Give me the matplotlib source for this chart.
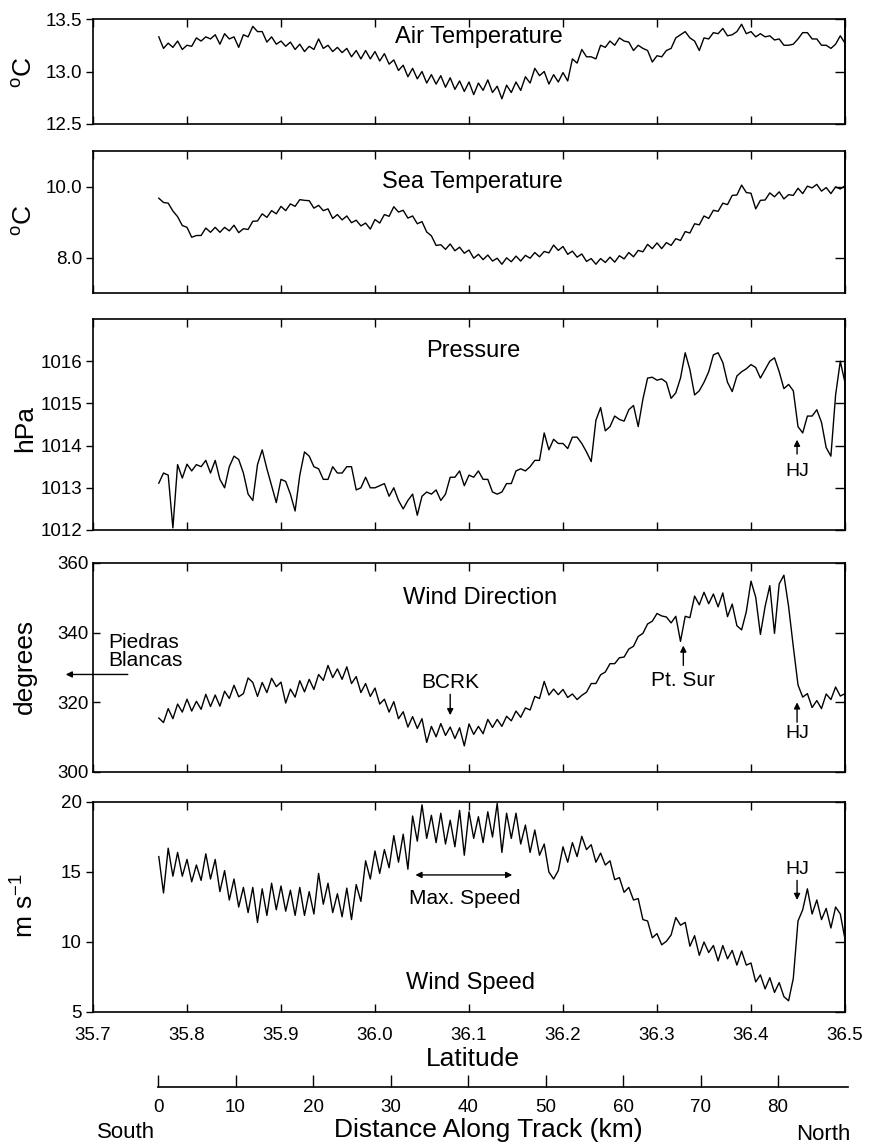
import numpy as np
import matplotlib
matplotlib.use('Agg')
import matplotlib.pyplot as plt

plt.rcParams['font.family'] = ['Liberation Sans', 'DejaVu Sans']
plt.rcParams['mathtext.fontset'] = 'custom'
plt.rcParams['mathtext.rm'] = 'Liberation Sans'
plt.rcParams['mathtext.it'] = 'Liberation Sans:italic'
plt.rcParams['mathtext.bf'] = 'Liberation Sans:bold'

lat_start, lat_end = 35.77, 36.50

air_temp = [
    13.33, 13.22, 13.27, 13.23, 13.29, 13.21, 13.25, 13.24, 13.32, 13.29,
    13.33, 13.31, 13.35, 13.26, 13.36, 13.31, 13.33, 13.23, 13.35, 13.33,
    13.43, 13.38, 13.38, 13.28, 13.33, 13.26, 13.29, 13.24, 13.28, 13.21,
    13.26, 13.19, 13.24, 13.21, 13.31, 13.22, 13.25, 13.19, 13.23, 13.18,
    13.22, 13.14, 13.20, 13.12, 13.20, 13.12, 13.19, 13.10, 13.17, 13.07,
    13.11, 13.01, 13.06, 12.95, 13.03, 12.93, 13.00, 12.89, 12.97, 12.88,
    12.96, 12.85, 12.94, 12.83, 12.91, 12.81, 12.90, 12.78, 12.89, 12.82,
    12.92, 12.80, 12.86, 12.74, 12.87, 12.80, 12.90, 12.82, 12.95, 12.89,
    13.03, 12.96, 13.00, 12.88, 12.97, 12.90, 12.99, 12.91, 13.12, 13.08,
    13.21, 13.14, 13.14, 13.12, 13.25, 13.23, 13.29, 13.25, 13.32, 13.29,
    13.28, 13.20, 13.25, 13.22, 13.20, 13.09, 13.15, 13.14, 13.20, 13.22,
    13.32, 13.35, 13.38, 13.32, 13.29, 13.20, 13.32, 13.31, 13.37, 13.36,
    13.41, 13.34, 13.35, 13.38, 13.45, 13.36, 13.38, 13.33, 13.36, 13.33,
    13.34, 13.30, 13.31, 13.25, 13.25, 13.26, 13.31, 13.37, 13.37, 13.31,
    13.31, 13.25, 13.25, 13.22, 13.26, 13.34, 13.27]

sea_temp = [
    9.67, 9.55, 9.53, 9.31, 9.15, 8.90, 8.85, 8.57, 8.62, 8.62,
    8.83, 8.71, 8.85, 8.71, 8.85, 8.75, 8.91, 8.70, 8.81, 8.79,
    9.02, 9.03, 9.23, 9.13, 9.32, 9.23, 9.44, 9.32, 9.51, 9.44,
    9.63, 9.61, 9.60, 9.39, 9.47, 9.32, 9.37, 9.10, 9.21, 9.06,
    9.17, 8.98, 9.05, 8.89, 8.97, 8.80, 9.07, 8.97, 9.21, 9.16,
    9.43, 9.28, 9.33, 9.11, 9.17, 8.95, 9.01, 8.72, 8.61, 8.34,
    8.36, 8.23, 8.38, 8.19, 8.29, 8.12, 8.21, 7.98, 8.09, 7.94,
    8.07, 7.90, 7.98, 7.81, 7.99, 7.88, 8.04, 7.90, 8.06, 7.98,
    8.14, 8.02, 8.17, 8.13, 8.35, 8.20, 8.31, 8.09, 8.18, 8.01,
    8.10, 7.89, 7.97, 7.81, 7.97, 7.86, 8.01, 7.87, 8.05, 7.96,
    8.14, 8.02, 8.20, 8.16, 8.37, 8.25, 8.41, 8.25, 8.42, 8.34,
    8.53, 8.48, 8.73, 8.69, 8.95, 8.92, 9.17, 9.10, 9.33, 9.30,
    9.53, 9.49, 9.75, 9.76, 10.04, 9.83, 9.81, 9.37, 9.61, 9.62,
    9.82, 9.71, 9.85, 9.65, 9.77, 9.75, 9.95, 9.80, 10.01, 9.96,
    10.06, 9.87, 9.97, 9.80, 9.99, 9.93, 10.02]

pressure = [
    1013.11, 1013.35, 1013.30, 1012.05, 1013.55, 1013.23, 1013.56, 1013.40, 1013.55, 1013.50,
    1013.65, 1013.35, 1013.65, 1013.20, 1013.00, 1013.50, 1013.75, 1013.67, 1013.35, 1012.85,
    1012.70, 1013.55, 1013.90, 1013.45, 1013.05, 1012.65, 1013.20, 1013.15, 1012.85, 1012.45,
    1013.30, 1013.85, 1013.75, 1013.50, 1013.45, 1013.20, 1013.20, 1013.50, 1013.35, 1013.35,
    1013.50, 1013.50, 1012.95, 1013.00, 1013.25, 1013.00, 1013.00, 1013.05, 1013.10, 1012.80,
    1013.00, 1012.70, 1012.50, 1012.70, 1012.85, 1012.35, 1012.80, 1012.90, 1012.85, 1012.95,
    1012.70, 1012.85, 1013.25, 1013.25, 1013.40, 1013.05, 1013.30, 1013.25, 1013.40, 1013.20,
    1013.20, 1012.90, 1012.85, 1012.90, 1013.10, 1013.10, 1013.40, 1013.45, 1013.40, 1013.50,
    1013.65, 1013.65, 1014.30, 1013.90, 1014.15, 1014.05, 1014.05, 1013.93, 1014.20, 1014.20,
    1014.05, 1013.85, 1013.62, 1014.60, 1014.90, 1014.35, 1014.45, 1014.70, 1014.62, 1014.58,
    1014.85, 1014.95, 1014.45, 1015.10, 1015.60, 1015.62, 1015.55, 1015.58, 1015.50, 1015.12,
    1015.25, 1015.60, 1016.20, 1015.80, 1015.20, 1015.30, 1015.50, 1015.75, 1016.15, 1016.20,
    1015.97, 1015.50, 1015.28, 1015.65, 1015.75, 1015.82, 1015.92, 1015.85, 1015.60, 1015.80,
    1016.00, 1016.08, 1015.75, 1015.35, 1015.45, 1015.30, 1014.45, 1014.30, 1014.70, 1014.70,
    1014.85, 1014.55, 1013.95, 1013.75, 1015.20, 1016.00, 1015.49]

wind_dir = [
    315.5, 314.2, 318.2, 315.3, 319.5, 317.2, 320.9, 317.5, 320.3, 318.0,
    322.3, 318.8, 322.1, 318.9, 323.2, 321.1, 324.9, 321.6, 322.5, 327.0,
    325.7, 321.7, 325.7, 322.8, 326.9, 324.5, 325.8, 319.8, 323.8, 321.5,
    326.2, 323.0, 326.6, 323.7, 328.0, 326.3, 330.6, 327.1, 329.6, 326.6,
    330.2, 325.4, 327.4, 322.8, 325.4, 321.7, 324.1, 319.5, 320.9, 317.2,
    320.2, 315.3, 317.3, 312.9, 315.9, 312.5, 315.3, 308.5, 313.1, 310.1,
    313.9, 310.5, 312.9, 309.6, 312.7, 307.5, 313.8, 310.8, 313.1, 311.0,
    315.1, 312.8, 315.1, 313.1, 316.0, 314.7, 317.5, 315.7, 318.4, 317.8,
    321.7, 321.1, 326.0, 322.1, 323.8, 322.2, 323.7, 321.4, 322.4, 320.8,
    322.0, 322.9, 325.4, 325.4, 327.9, 328.7, 331.1, 331.1, 332.8, 333.0,
    335.3, 336.1, 338.9, 339.8, 342.5, 343.3, 345.5, 344.8, 344.5, 342.8,
    344.7, 337.5, 344.7, 344.3, 350.5, 348.0, 351.6, 348.3, 351.1, 347.4,
    351.4, 344.6, 348.2, 342.0, 340.8, 346.0, 354.8, 350.2, 339.5, 347.5,
    353.5, 339.8, 354.0, 356.5, 347.5, 336.0, 325.0, 321.5, 322.5, 318.5,
    320.5, 318.2, 322.4, 320.8, 324.4, 321.8, 322.5]

wind_speed = [
    16.1, 13.5, 16.7, 14.7, 16.4, 14.7, 15.9, 14.3, 15.5, 14.4,
    16.3, 14.5, 15.9, 13.6, 15.1, 13.0, 14.5, 12.5, 13.9, 12.1,
    13.9, 11.4, 13.8, 11.9, 14.2, 12.3, 14.0, 12.2, 13.7, 11.9,
    13.9, 11.9, 13.6, 12.0, 14.9, 12.7, 14.2, 12.1, 13.45, 11.8,
    13.85, 11.6, 14.1, 12.9, 15.8, 14.5, 16.5, 14.9, 16.6, 15.3,
    17.6, 15.7, 17.7, 15.2, 19.0, 17.2, 19.8, 17.4, 19.05, 17.1,
    19.2, 17.0, 18.7, 16.8, 19.4, 16.2, 19.3, 17.4, 18.95, 17.1,
    19.3, 17.5, 19.9, 16.4, 19.2, 17.4, 19.2, 17.0, 18.35, 16.4,
    18.0, 16.2, 17.0, 15.0, 14.5, 15.1, 16.8, 15.7, 17.1, 16.1,
    17.55, 16.6, 16.95, 15.7, 16.35, 15.5, 15.8, 14.45, 14.6, 13.55,
    13.9, 13.0, 13.1, 11.6, 11.5, 10.3, 10.6, 9.8, 10.05, 10.5,
    11.75, 11.2, 11.4, 9.7, 10.45, 9.05, 10.0, 9.25, 9.75, 8.65,
    9.75, 8.8, 9.4, 8.35, 9.35, 8.35, 8.5, 7.15, 7.65, 6.65,
    7.45, 6.4, 7.1, 6.1, 5.8, 7.4, 11.5, 12.3, 13.8, 12.0,
    13.0, 11.6, 12.4, 11.0, 12.5, 12.0, 10.2]

lat = np.linspace(lat_start, lat_end, len(air_temp))

lat_ticks = [35.7, 35.8, 35.9, 36.0, 36.1, 36.2, 36.3, 36.4, 36.5]
lat_ticklabels = ['35.7', '35.8', '35.9', '36.0', '36.1', '36.2', '36.3', '36.4', '36.5']
dist_ticks = [0, 10, 20, 30, 40, 50, 60, 70, 80]
dist_ticklabels = ['0', '10', '20', '30', '40', '50', '60', '70', '80']

# ---------------- layout ---------------------------------------------------
W, H = 869, 1145
fig = plt.figure(figsize=(W / 100, H / 100), dpi=100)
LEFT, RIGHT = 93, 845
TICK_FS = 13.5
TITLE_FS = 17
LABEL_FS = 19
ANN_FS = 15


def px_axes(top, bottom):
    return fig.add_axes([LEFT / W, 1 - bottom / H, (RIGHT - LEFT) / W, (bottom - top) / H])


panels = [
    dict(top=19, bottom=124, y=air_temp, ylim=(12.5, 13.5), yt=[12.5, 13.0, 13.5],
         ytl=['12.5', '13.0', '13.5'], ylab='$^{\\mathrm{o}}$C', ylab_y=72,
         title='Air Temperature', tpos=(36.110, 13.33), ldir='out'),
    dict(top=151, bottom=293, y=sea_temp, ylim=(7.0, 11.0), yt=[8.0, 10.0],
         ytl=['8.0', '10.0'], ylab='$^{\\mathrm{o}}$C', ylab_y=220,
         title='Sea Temperature', tpos=(36.104, 10.14), ldir='out'),
    dict(top=319, bottom=530, y=pressure, ylim=(1012, 1017), yt=[1012, 1013, 1014, 1015, 1016],
         ytl=['1012', '1013', '1014', '1015', '1016'], ylab='hPa', ylab_y=428,
         title='Pressure', tpos=(36.104, 1016.24), ldir='out'),
    dict(top=563, bottom=772, y=wind_dir, ylim=(300, 360), yt=[300, 320, 340, 360],
         ytl=['300', '320', '340', '360'], ylab='degrees', ylab_y=666,
         title='Wind Direction', tpos=(36.112, 350.0), ldir='in'),
    dict(top=802, bottom=1012, y=wind_speed, ylim=(5, 20), yt=[5, 10, 15, 20],
         ytl=['5', '10', '15', '20'], ylab='m s$^{-1}$', ylab_y=906,
         title='Wind Speed', tpos=(36.102, 7.07), ldir='out'),
]

axes = []
for i, p in enumerate(panels):
    ax = px_axes(p['top'], p['bottom'])
    ax.plot(lat, p['y'], color='black', lw=1.0)
    ax.set_xlim(35.7, 36.5)
    ax.set_ylim(*p['ylim'])
    ax.set_xticks(lat_ticks)
    ax.set_yticks(p['yt'])
    ax.set_yticklabels(p['ytl'], fontsize=TICK_FS)
    ax.tick_params(axis='x', direction='in', top=True, bottom=True, length=6, width=1.0)
    ax.tick_params(axis='y', direction=p['ldir'], left=True, right=False, length=5, width=1.0, pad=3)
    sec = ax.secondary_yaxis('right')
    sec.set_yticks(p['yt'])
    sec.set_yticklabels([])
    sec.tick_params(direction='in', length=7, width=1.0)
    for s in list(ax.spines.values()) + list(sec.spines.values()):
        s.set_linewidth(1.2)
    if i < len(panels) - 1:
        ax.tick_params(axis='x', labelbottom=False)
    else:
        ax.set_xticklabels(lat_ticklabels, fontsize=TICK_FS)
        ax.tick_params(axis='x', pad=11)
    ax.text(p['tpos'][0], p['tpos'][1], p['title'], fontsize=TITLE_FS, ha='center', va='center')
    fig.text(25 / W, 1 - p['ylab_y'] / H, p['ylab'], rotation=90, ha='center', va='center',
             fontsize=LABEL_FS)
    axes.append(ax)

ax_p, ax_wd, ax_ws = axes[2], axes[3], axes[4]
arrow = dict(arrowstyle='-|>', color='black', lw=1.0, mutation_scale=9, shrinkA=0, shrinkB=0)

# Pressure: HJ
ax_p.annotate('', xy=(36.449, 1014.14), xytext=(36.449, 1013.80), arrowprops=arrow)
ax_p.text(36.449, 1013.38, 'HJ', fontsize=14, ha='center', va='center')

# Wind direction annotations
ax_wd.annotate('', xy=(35.671, 328.0), xytext=(35.737, 328.0), arrowprops=arrow,
               annotation_clip=False)
ax_wd.text(35.716, 334.6, 'Piedras\nBlancas', fontsize=ANN_FS, ha='left', va='center',
           linespacing=0.9)
ax_wd.annotate('', xy=(36.080, 316.3), xytext=(36.080, 322.3), arrowprops=arrow)
ax_wd.text(36.080, 325.6, 'BCRK', fontsize=ANN_FS, ha='center', va='center')
ax_wd.annotate('', xy=(36.328, 336.3), xytext=(36.328, 330.6), arrowprops=arrow)
ax_wd.text(36.328, 326.4, 'Pt. Sur', fontsize=ANN_FS, ha='center', va='center')
ax_wd.annotate('', xy=(36.449, 320.0), xytext=(36.449, 314.3), arrowprops=arrow)
ax_wd.text(36.449, 311.1, 'HJ', fontsize=14, ha='center', va='center')

# Wind speed annotations
ax_ws.annotate('', xy=(36.449, 13.0), xytext=(36.449, 14.4), arrowprops=arrow)
ax_ws.text(36.449, 15.15, 'HJ', fontsize=14, ha='center', va='center')
ax_ws.annotate('', xy=(36.043, 14.79), xytext=(36.146, 14.79),
               arrowprops=dict(arrowstyle='<|-|>', color='black', lw=1.0, mutation_scale=9,
                               shrinkA=0, shrinkB=0))
ax_ws.text(36.096, 13.14, 'Max. Speed', fontsize=ANN_FS, ha='center', va='center')

# Latitude label
fig.text(473 / W, 1 - 1059 / H, 'Latitude', fontsize=LABEL_FS, ha='center', va='center')

# Distance along track axis
km_per_px = 1 / 7.75
ax_d = fig.add_axes([LEFT / W, 1 - 1087 / H, (RIGHT - LEFT) / W, 0.0001])
ax_d.set_xlim((LEFT - 158) * km_per_px, (RIGHT - 158) * km_per_px)
ax_d.set_ylim(0, 1)
for side in ['top', 'left', 'right']:
    ax_d.spines[side].set_visible(False)
ax_d.spines['bottom'].set_bounds(0, (848 - 158) * km_per_px)
ax_d.spines['bottom'].set_linewidth(1.2)
ax_d.patch.set_visible(False)
ax_d.set_yticks([])
ax_d.set_xticks(dist_ticks)
ax_d.set_xticklabels(dist_ticklabels, fontsize=TICK_FS)
ax_d.tick_params(axis='x', direction='in', length=9, width=1.0, pad=9)

fig.text(126 / W, 1 - 1133 / H, 'South', fontsize=16, ha='center', va='center')
fig.text(488 / W, 1 - 1130 / H, 'Distance Along Track (km)', fontsize=LABEL_FS,
         ha='center', va='center')
fig.text(823 / W, 1 - 1135 / H, 'North', fontsize=16, ha='center', va='center')

fig.savefig('out.png', dpi=100)
